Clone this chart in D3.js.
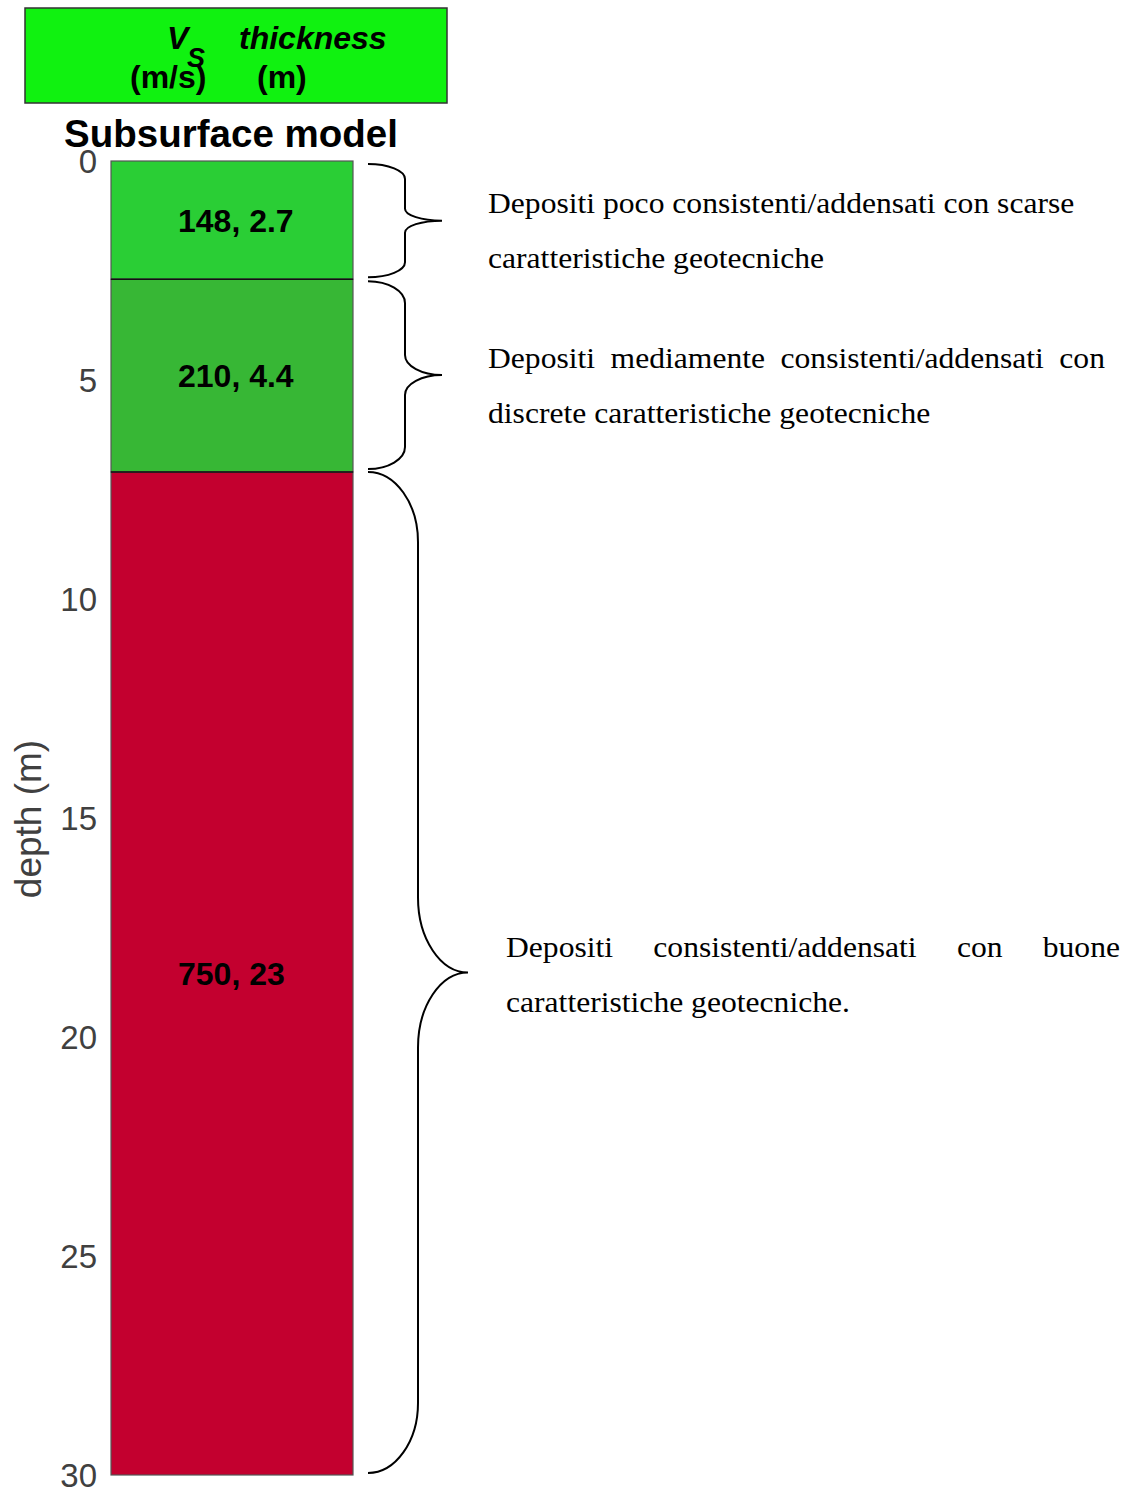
<!DOCTYPE html>
<html>
<head>
<meta charset="utf-8">
<script src="https://cdn.jsdelivr.net/npm/d3@7"></script>
<style>
  html, body { margin: 0; padding: 0; background: #ffffff; }
  svg { display: block; }
</style>
</head>
<body>
<div id="chart"></div>
<script>
// ---------- DATA ----------
const layerVs = [148, 210, 750];          // shear-wave velocity (m/s)
const layerThickness = [2.7, 4.4, 23];    // thickness (m)
const depthTicks = [0, 5, 10, 15, 20, 25, 30];
const depthDomain = [0, 30];
const titleText = "Subsurface model";
const yLabelText = "depth (m)";
const annotationLines = [
  ["Depositi poco consistenti/addensati con scarse", "caratteristiche geotecniche"],
  ["Depositi mediamente consistenti/addensati con", "discrete caratteristiche geotecniche"],
  ["Depositi consistenti/addensati con buone", "caratteristiche geotecniche."]
];
const justifyFirstLine = [false, true, true];

// ---------- STYLE / LAYOUT ----------
const W = 1133, H = 1493;
const layerColors = ["#2ace35", "#37b735", "#c3002f"];
const sans = "'Liberation Sans', Arial, Helvetica, sans-serif";
const serif = "'Liberation Serif', 'Times New Roman', Times, serif";

const svg = d3.select("#chart").append("svg")
  .attr("width", W).attr("height", H)
  .attr("viewBox", `0 0 ${W} ${H}`);

const y = d3.scaleLinear().domain(depthDomain).range([161, 1475]);
const x = d3.scaleLinear().domain([0, 1]).range([111, 353]);

// layer table
let acc = 0;
const layers = layerVs.map((vs, i) => {
  const top = acc;
  acc += layerThickness[i];
  const bottom = Math.min(acc, depthDomain[1]);
  return { vs, th: layerThickness[i], top, bottom, color: layerColors[i] };
});

// ---------- legend box ----------
const leg = svg.append("g");
leg.append("rect").attr("x", 25).attr("y", 8).attr("width", 422).attr("height", 95)
  .attr("fill", "#10f210").attr("stroke", "#333").attr("stroke-width", 1.5);
const legText = (t, xx, yy, size, italic) => leg.append("text")
  .attr("x", xx).attr("y", yy).attr("font-family", sans)
  .attr("font-size", size).attr("font-weight", "bold")
  .attr("font-style", italic ? "italic" : "normal").attr("fill", "#000").text(t);
legText("V", 167, 49, 32, true);
legText("S", 187, 67, 27, true);
legText("thickness", 239, 49, 32, true);
legText("(m/s)", 130, 88, 32, false);
legText("(m)", 257, 88, 32, false);

// ---------- title ----------
svg.append("text").attr("x", 231).attr("y", 147).attr("text-anchor", "middle")
  .attr("font-family", sans).attr("font-size", 38.5).attr("font-weight", "bold")
  .attr("fill", "#000").text(titleText);

// ---------- layers ----------
const lg = svg.append("g");
lg.selectAll("rect.layer").data(layers).join("rect")
  .attr("class", "layer")
  .attr("x", x(0)).attr("width", x(1) - x(0))
  .attr("y", d => y(d.top)).attr("height", d => y(d.bottom) - y(d.top))
  .attr("fill", d => d.color)
  .attr("stroke", "#555").attr("stroke-width", 1.2);

// interface lines
lg.selectAll("line.iface").data(layers.slice(1)).join("line")
  .attr("x1", x(0)).attr("x2", x(1))
  .attr("y1", d => y(d.top)).attr("y2", d => y(d.top))
  .attr("stroke", "#111").attr("stroke-width", 1.3);

lg.selectAll("text.lab").data(layers).join("text")
  .attr("x", 178).attr("y", d => y((d.top + d.bottom) / 2))
  .attr("dy", "0.36em")
  .attr("font-family", sans).attr("font-size", 32).attr("font-weight", "bold")
  .attr("fill", "#000")
  .text(d => `${d.vs}, ${d.th}`);

// ---------- axis ----------
const axis = d3.axisLeft(y).tickValues(depthTicks).tickSize(0).tickPadding(14);
const ag = svg.append("g").attr("transform", `translate(${x(0)},0)`).call(axis);
ag.select(".domain").remove();
ag.selectAll("text").attr("font-family", sans).attr("font-size", 33)
  .attr("fill", "#404040").attr("dy", "0.36em");

svg.append("text")
  .attr("transform", `translate(41,819) rotate(-90)`)
  .attr("text-anchor", "middle")
  .attr("font-family", sans).attr("font-size", 37).attr("fill", "#404040")
  .text(yLabelText);

// ---------- braces ----------
const braceSpec = [
  { xe: 368, xs: 405, xt: 442, o0: 3, o1: -2, r1: 15, r2: 12 },
  { xe: 368, xs: 405, xt: 442, o0: 2, o1: -3, r1: 22, r2: 20 },
  { xe: 368, xs: 418, xt: 468, o0: 0, o1: -2, r1: 70, r2: 75 }
];
const K = 0.55;
function bracePath(y0, y1, s) {
  const ym = (y0 + y1) / 2;
  const dx1 = s.xs - s.xe, dx2 = s.xt - s.xs;
  return `M${s.xe},${y0}` +
    ` C${s.xe + dx1 * K},${y0} ${s.xs},${y0 + s.r1 * (1 - K)} ${s.xs},${y0 + s.r1}` +
    ` L${s.xs},${ym - s.r2}` +
    ` C${s.xs},${ym - s.r2 * (1 - K)} ${s.xt - dx2 * K},${ym} ${s.xt},${ym}` +
    ` C${s.xt - dx2 * K},${ym} ${s.xs},${ym + s.r2 * (1 - K)} ${s.xs},${ym + s.r2}` +
    ` L${s.xs},${y1 - s.r1}` +
    ` C${s.xs},${y1 - s.r1 * (1 - K)} ${s.xe + dx1 * K},${y1} ${s.xe},${y1}`;
}
const braces = layers.map((d, i) => ({
  y0: y(d.top) + braceSpec[i].o0, y1: y(d.bottom) + braceSpec[i].o1, s: braceSpec[i]
}));
svg.selectAll("path.brace").data(braces).join("path")
  .attr("class", "brace")
  .attr("d", b => bracePath(b.y0, b.y1, b.s))
  .attr("fill", "none").attr("stroke", "#000").attr("stroke-width", 2);

// ---------- annotations ----------
const annoPos = [
  { x: 488, base: 213, right: 1077 },
  { x: 488, base: 368, right: 1105 },
  { x: 506, base: 957, right: 1120 }
];
const fs = 29, sx = 1.09, lineGap = 55;
annotationLines.forEach((lines, bi) => {
  const p = annoPos[bi];
  lines.forEach((line, li) => {
    const g = svg.append("g")
      .attr("transform", `translate(${p.x},${p.base + li * lineGap}) scale(${sx},1)`);
    if (li === 0 && justifyFirstLine[bi]) {
      const words = line.split(" ");
      const nodes = words.map(w => g.append("text")
        .attr("font-family", serif).attr("font-size", fs).attr("fill", "#000").text(w));
      const widths = nodes.map(n => n.node().getComputedTextLength());
      const target = (p.right - p.x) / sx;
      const gap = (target - d3.sum(widths)) / (words.length - 1);
      let cx = 0;
      nodes.forEach((n, k) => { n.attr("x", cx); cx += widths[k] + gap; });
    } else {
      g.append("text").attr("x", 0).attr("font-family", serif)
        .attr("font-size", fs).attr("fill", "#000").text(line);
    }
  });
});
</script>
</body>
</html>
